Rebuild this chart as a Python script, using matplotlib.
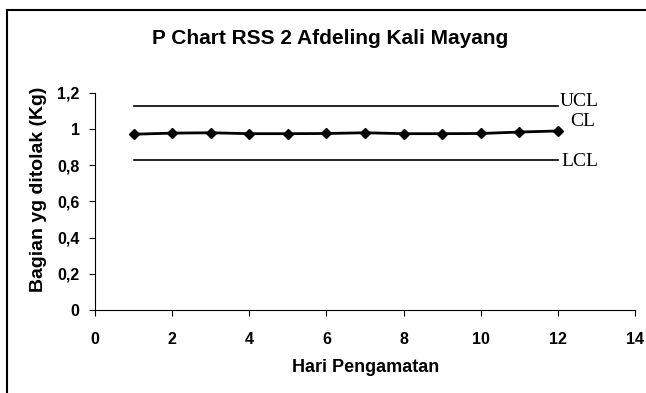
import matplotlib.pyplot as plt
from matplotlib.lines import Line2D

# data
hari = [1, 2, 3, 4, 5, 6, 7, 8, 9, 10, 11, 12]
proporsi = [0.972, 0.978, 0.98, 0.975, 0.975, 0.976, 0.98, 0.975, 0.975, 0.976, 0.984, 0.99]
ucl = 1.128
lcl = 0.830
x_ticks = [0, 2, 4, 6, 8, 10, 12, 14]
y_ticks = [0, 0.2, 0.4, 0.6, 0.8, 1.0, 1.2]
y_labels = ["0", "0,2", "0,4", "0,6", "0,8", "1", "1,2"]

plt.rcParams.update({
    "font.family": ["Liberation Sans", "DejaVu Sans"],
    "font.weight": "bold",
})

fig = plt.figure(figsize=(6.46, 3.93), dpi=100)
ax = fig.add_axes([0.147, 0.2112, 0.836, 0.5522])

ax.plot(hari, proporsi, color="black", linewidth=2, marker="D", markersize=5.5)
ax.plot([hari[0], hari[-1]], [ucl, ucl], color="black", linewidth=1.2)
ax.plot([hari[0], hari[-1]], [lcl, lcl], color="black", linewidth=1.2)

serif = ["Liberation Serif", "DejaVu Serif"]
ax.text(hari[-1] + 0.05, ucl, "UCL", family=serif, fontweight="normal", fontsize=14,
        va="baseline", ha="left")
ax.text(hari[-1] + 0.32, proporsi[-1] + 0.055, "CL", family=serif, fontweight="normal", fontsize=14,
        va="center", ha="left")
ax.text(hari[-1] + 0.1, lcl - 0.01, "LCL", family=serif, fontweight="normal", fontsize=14,
        va="center", ha="left")

ax.set_xlim(0, 14)
ax.set_ylim(0, 1.2)
ax.set_xticks(x_ticks)
ax.set_yticks(y_ticks)
ax.set_yticklabels(y_labels)
ax.tick_params(labelsize=11.5, length=4, width=0.8)
ax.tick_params(axis="x", pad=12)
ax.tick_params(axis="y", pad=7)
for s in ["top", "right"]:
    ax.spines[s].set_visible(False)
for s in ["left", "bottom"]:
    ax.spines[s].set_linewidth(0.8)

ax.set_xlabel("Hari Pengamatan", fontsize=13, fontweight="bold")
ax.xaxis.set_label_coords(0.502, -0.263)
ax.xaxis.label.set_va("center")
ax.set_ylabel("Bagian yg ditolak (Kg)", fontsize=14, fontweight="bold")
ax.yaxis.set_label_coords(-0.104, 0.558)
ax.yaxis.label.set_va("center")

fig.text(0.511, 0.903, "P Chart RSS 2 Afdeling Kali Mayang", fontsize=15,
         fontweight="bold", ha="center", va="center")

# outer chart frame (left and top edges visible in the scan)
fig.add_artist(Line2D([0.011, 0.011], [0.0, 0.975], transform=fig.transFigure, color="black", linewidth=1.5))
fig.add_artist(Line2D([0.011, 1.0], [0.975, 0.975], transform=fig.transFigure, color="black", linewidth=1.5))

fig.savefig("out.png", dpi=100)
